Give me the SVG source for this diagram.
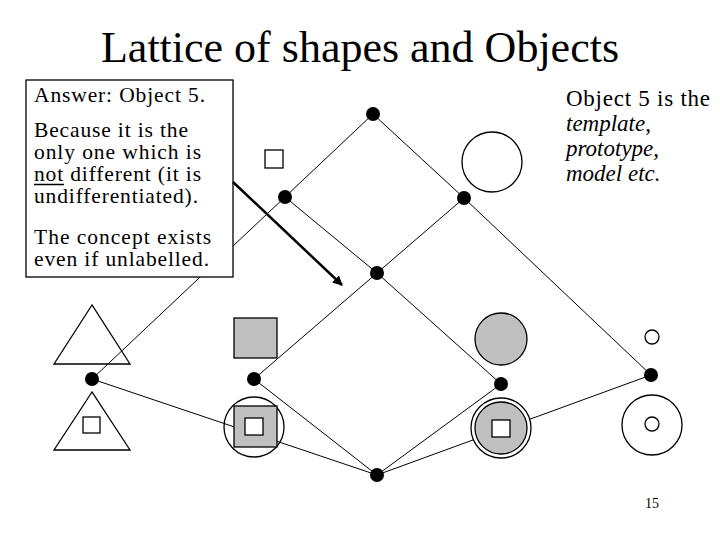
<svg xmlns="http://www.w3.org/2000/svg" width="720" height="540" viewBox="0 0 720 540">
<style>
.t{font-family:"Liberation Serif","Times New Roman",serif;fill:#000}
.e{stroke:#000;stroke-width:1;fill:none}
.n{fill:#000}
.o{stroke:#000;stroke-width:1.3;fill:none}
.g{stroke:#000;stroke-width:1.3;fill:#c0c0c0}
.w{stroke:#000;stroke-width:1.3;fill:#fff}
</style>
<defs>
<marker id="ah" viewBox="0 0 10 10" refX="9" refY="5" markerWidth="4" markerHeight="4" orient="auto" markerUnits="strokeWidth">
<path d="M0,0 L10,5 L0,10 z" fill="#000"/>
</marker>
</defs>
<rect width="720" height="540" fill="#fff"/>
<text class="t" x="360" y="62" font-size="44" text-anchor="middle">Lattice of shapes and Objects</text>
<g id="connectors">
<line class="e" x1="373" y1="114" x2="285" y2="197"/>
<line class="e" x1="373" y1="114" x2="464" y2="198"/>
<line class="e" x1="285" y1="197" x2="377" y2="273"/>
<line class="e" x1="464" y1="198" x2="377" y2="273"/>
<line class="e" x1="285" y1="197" x2="92" y2="379"/>
<line class="e" x1="464" y1="198" x2="651" y2="375"/>
<line class="e" x1="377" y1="273" x2="254" y2="379"/>
<line class="e" x1="377" y1="273" x2="501" y2="384"/>
<line class="e" x1="92" y1="379" x2="377" y2="475"/>
<line class="e" x1="254" y1="379" x2="377" y2="475"/>
<line class="e" x1="501" y1="384" x2="377" y2="475"/>
<line class="e" x1="651" y1="375" x2="377" y2="475"/>
</g>
<g id="obj-small-square"><rect class="o" x="265" y="150" width="18" height="18"/></g>
<g id="obj-big-circle"><circle class="o" cx="492" cy="162" r="30"/></g>
<g id="obj-triangle"><polygon class="o" points="92,305 54,364 130,364"/></g>
<g id="obj-triangle-square"><polygon class="o" points="92,392 54,450 130,450"/><rect class="o" x="83" y="417" width="17" height="16"/></g>
<g id="obj-gray-square"><rect class="g" x="234" y="318" width="43" height="40"/></g>
<g id="obj-circle-gray-square"><circle class="o" cx="254" cy="427" r="30"/><rect class="g" x="234" y="406" width="43" height="41"/><rect class="w" x="245" y="418" width="18" height="17"/></g>
<g id="obj-gray-circle"><circle class="g" cx="501" cy="339" r="26"/></g>
<g id="obj-double-gray-circle"><circle class="w" cx="501" cy="428" r="30"/><circle class="g" cx="501" cy="428" r="26"/><rect class="w" x="492" y="420" width="18" height="17"/></g>
<g id="obj-tiny-circle"><circle class="o" cx="652" cy="337" r="7"/></g>
<g id="obj-ring"><circle class="o" cx="652" cy="425" r="30"/><circle class="o" cx="652" cy="424" r="7"/></g>
<g id="n-top"><circle class="n" cx="373" cy="114" r="7"/></g>
<g id="n-leftmid"><circle class="n" cx="285" cy="197" r="7"/></g>
<g id="n-rightmid"><circle class="n" cx="464" cy="198" r="7"/></g>
<g id="n-center"><circle class="n" cx="377" cy="273" r="7"/></g>
<g id="n-farleft"><circle class="n" cx="92" cy="379" r="7"/></g>
<g id="n-left2"><circle class="n" cx="254" cy="379" r="7"/></g>
<g id="n-right2"><circle class="n" cx="501" cy="384" r="7"/></g>
<g id="n-farright"><circle class="n" cx="651" cy="375" r="7"/></g>
<g id="n-bottom"><circle class="n" cx="377" cy="475" r="7"/></g>
<g id="answer-box">
<rect x="26" y="80" width="207" height="197" fill="#fff" stroke="#000" stroke-width="1.3"/>
<text class="t" font-size="21.5">
<tspan x="34" y="102" textLength="171" lengthAdjust="spacing">Answer: Object 5.</tspan>
<tspan x="34" y="137" textLength="154" lengthAdjust="spacing">Because it is the</tspan>
<tspan x="34" y="159" textLength="167" lengthAdjust="spacing">only one which is</tspan>
<tspan x="34" y="203" textLength="164" lengthAdjust="spacing">undifferentiated).</tspan>
<tspan x="34" y="244" textLength="177" lengthAdjust="spacing">The concept exists</tspan>
<tspan x="34" y="266" textLength="175" lengthAdjust="spacing">even if unlabelled.</tspan>
</text>
<text class="t" font-size="21.5" x="34" y="181" textLength="167" lengthAdjust="spacing">not different (it is</text>
<line x1="34" y1="184.5" x2="64" y2="184.5" stroke="#000" stroke-width="1.5"/>
</g>
<g id="arrow">
<line x1="233" y1="182" x2="342" y2="285" stroke="#000" stroke-width="2.5" marker-end="url(#ah)"/>
</g>
<g id="note">
<text class="t" font-size="23">
<tspan x="566" y="106" textLength="144" lengthAdjust="spacing">Object 5 is the</tspan>
<tspan x="566" y="131" font-style="italic">template,</tspan>
<tspan x="566" y="156" font-style="italic">prototype,</tspan>
<tspan x="566" y="181" font-style="italic">model etc.</tspan>
</text>
</g>
<text class="t" font-size="14" x="652" y="508" text-anchor="middle">15</text>
</svg>
